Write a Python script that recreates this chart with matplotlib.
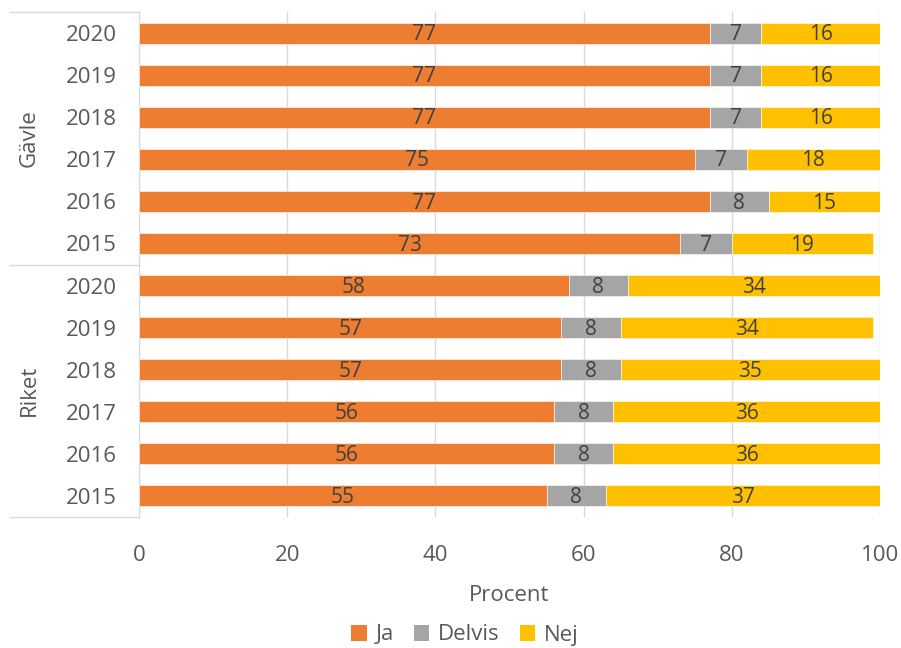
import matplotlib
matplotlib.use("Agg")
import matplotlib.pyplot as plt
from matplotlib.lines import Line2D
from matplotlib.patches import Patch
import numpy as np

plt.rcParams['font.family'] = ['Open Sans', 'DejaVu Sans']

groups = ["Gävle", "Riket"]
years = ["2020", "2019", "2018", "2017", "2016", "2015"]
ja_gavle = [77, 77, 77, 75, 77, 73]
delvis_gavle = [7, 7, 7, 7, 8, 7]
nej_gavle = [16, 16, 16, 18, 15, 19]
ja_riket = [58, 57, 57, 56, 56, 55]
delvis_riket = [8, 8, 8, 8, 8, 8]
nej_riket = [34, 34, 35, 36, 36, 37]
series_names = ["Ja", "Delvis", "Nej"]
colors = ["#ED7D31", "#A5A5A5", "#FFC000"]
xticks = [0, 20, 40, 60, 80, 100]

ja = ja_gavle + ja_riket
delvis = delvis_gavle + delvis_riket
nej = nej_gavle + nej_riket
labels = years + years
n = len(labels)
y = np.arange(n)

fig = plt.figure(figsize=(9.01, 6.48), dpi=100)
ax = fig.add_axes([139/901, 1-517/648, (880-139)/901, (517-12)/648])

txtc = "#595959"
left = np.zeros(n)
for vals, col in zip([ja, delvis, nej], colors):
    vals = np.array(vals, dtype=float)
    ax.barh(y, vals, left=left, height=0.5, color=col, edgecolor="white", linewidth=0.4, zorder=3)
    for yi, l, v in zip(y, left, vals):
        ax.text(l + v/2, yi + 0.04, f"{int(v)}", ha="center", va="center", fontsize=15, color="#404040", zorder=4)
    left += vals

ax.set_ylim(n - 0.5, -0.5)
ax.set_xlim(0, 100)
ax.set_xticks(xticks)
ax.set_yticks(y)
ax.set_yticklabels(labels)
ax.tick_params(axis="both", length=0, labelsize=16, labelcolor=txtc)
ax.tick_params(axis="x", pad=20)
ax.tick_params(axis="y", pad=16)
ax.grid(axis="x", color="#D9D9D9", linewidth=1, zorder=0)
for s in ["top", "right", "bottom"]:
    ax.spines[s].set_visible(False)
ax.spines["left"].set_color("#D9D9D9")
ax.set_xlabel("Procent", fontsize=16, color=txtc, labelpad=14)

# group separators in label area
x0 = (10 - 139) / (880 - 139)
for yy in [-0.5, 5.5, 11.5]:
    ax.add_line(Line2D([x0, 0], [yy, yy], transform=ax.get_yaxis_transform(), color="#D9D9D9", linewidth=1, clip_on=False))

gx = (29 - 139) / (880 - 139)
ax.text(gx, 2.5, groups[0], transform=ax.get_yaxis_transform(), rotation=90, ha="center", va="center", fontsize=16, color=txtc)
ax.text(gx, 8.5, groups[1], transform=ax.get_yaxis_transform(), rotation=90, ha="center", va="center", fontsize=16, color=txtc)

handles = [Patch(facecolor=c, edgecolor="none") for c in colors]
fig.legend(handles, series_names, loc="center", bbox_to_anchor=(465/901, 1-635/648), ncol=3, frameon=False,
           fontsize=16, labelcolor=txtc, handlelength=0.7, handleheight=0.7, handletextpad=0.4, columnspacing=0.9)

fig.savefig("out.png", dpi=100)
